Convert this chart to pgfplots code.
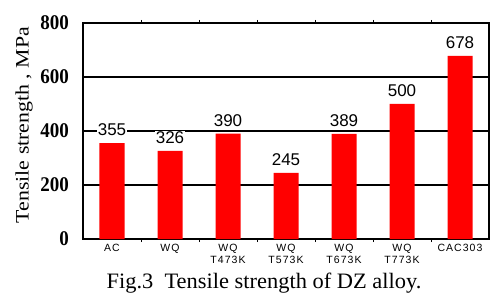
\documentclass[border=0pt]{standalone}
\usepackage{fontspec}
\setmainfont{Liberation Serif}
\newfontfamily\sansf{Liberation Sans}
\newfontfamily\sansw[LetterSpace=10]{Liberation Sans}
\usepackage{pgfplots}
\pgfplotsset{compat=1.18}
\begin{document}
\begin{tikzpicture}
\useasboundingbox (0,0) rectangle (500bp,300bp);
\begin{axis}[
  at={(83bp,61bp)}, anchor=south west,
  scale only axis, width=406bp, height=216bp,
  xmin=-0.5, xmax=6.5, ymin=0, ymax=800,
  ytick={0,200,400,600,800},
  yticklabels={0,200,400,600,800},
  xtick={0,1,2,3,4,5,6},
  xticklabels={AC,WQ,{WQ\\T473K},{WQ\\T573K},{WQ\\T673K},{WQ\\T773K},CAC303},
  minor xtick={0.5,1.5,2.5,3.5,4.5,5.5},
  major tick length=0pt, minor tick length=3bp,
  tick align=inside,
  ymajorgrids, major grid style={black, line width=1.2bp},
  axis line style={line width=1.4bp},
  every minor tick/.style={line width=1bp, black},
  yticklabel style={font=\rmfamily\bfseries\fontsize{19bp}{19bp}\selectfont, anchor=east, inner sep=0pt, xshift=-14bp, yscale=1.1},
  xticklabel style={font=\sansw\fontsize{10.5bp}{12bp}\selectfont, align=center, anchor=north, inner sep=0pt, yshift=-5bp},
  /pgf/number format/assume math mode=true,
  ybar, bar width=25bp,
  nodes near coords,
  nodes near coords style={font=\sansf\fontsize{17bp}{17bp}\selectfont, fill=white, inner sep=1bp, anchor=south, yshift=6bp},
  clip=false,
]
\addplot[fill=red, draw=none] coordinates {(0,355) (1,326) (2,390) (3,245) (4,389) (5,500) (6,678)};
\end{axis}
\node[rotate=90, font=\rmfamily\fontsize{19bp}{19bp}\selectfont, xscale=1.15] at (24bp,175bp) {Tensile strength , MPa};
\node[anchor=base, font=\rmfamily\fontsize{22bp}{22bp}\selectfont, xscale=1.02] at (264bp,12bp) {Fig.3\ \ Tensile strength of DZ alloy.};
\end{tikzpicture}
\end{document}
